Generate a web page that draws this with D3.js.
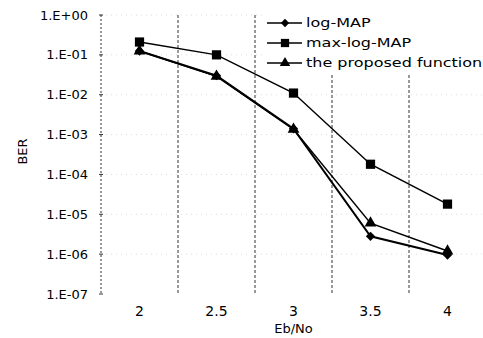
<!DOCTYPE html>
<html>
<head>
<meta charset="utf-8">
<script src="https://cdn.jsdelivr.net/npm/d3@7"></script>
<style>
  body { margin: 0; background: #fff; }
  svg { display: block; }
  text { font-family: "DejaVu Sans", sans-serif; fill: #000; }
</style>
</head>
<body>
<svg width="483" height="338"></svg>
<script>
const ebno = ["2", "2.5", "3", "3.5", "4"];
const logMap = [0.125, 0.030, 1.4e-3, 2.8e-6, 9.5e-7];
const maxLogMap = [0.21, 0.10, 0.011, 1.8e-4, 1.8e-5];
const proposed = [0.125, 0.029, 1.35e-3, 6.0e-6, 1.2e-6];
const yTicks = [1, 1e-1, 1e-2, 1e-3, 1e-4, 1e-5, 1e-6, 1e-7];
const yTickLabels = ["1.E+00", "1.E-01", "1.E-02", "1.E-03", "1.E-04", "1.E-05", "1.E-06", "1.E-07"];

const svg = d3.select("svg");

const plotLeft = 101, plotRight = 486, plotTop = 15, plotBottom = 294;

const x = d3.scaleBand().domain(ebno).range([plotLeft, plotRight]).padding(0);
const cx = (d) => x(d) + x.bandwidth() / 2;
const y = d3.scaleLog().domain([1e-7, 1]).range([plotBottom, plotTop]);

// stretch text horizontally (the scanned figure is wider than any font we have)
function stretch(sel, k) {
  sel.each(function () {
    const len = this.getComputedTextLength();
    d3.select(this).attr("textLength", len * k).attr("lengthAdjust", "spacingAndGlyphs");
  });
}

// faint horizontal grid
svg.append("g")
  .selectAll("line")
  .data(yTicks.slice(0, -1))
  .join("line")
  .attr("x1", plotLeft).attr("x2", plotRight)
  .attr("y1", (d) => y(d)).attr("y2", (d) => y(d))
  .attr("stroke", "#dcdcdc")
  .attr("stroke-dasharray", "1,4");

// vertical dividers between categories
svg.append("g")
  .selectAll("line")
  .data(ebno.slice(1))
  .join("line")
  .attr("x1", (d) => x(d)).attr("x2", (d) => x(d))
  .attr("y1", plotTop).attr("y2", plotBottom)
  .attr("stroke", "#333")
  .attr("stroke-dasharray", "3,2");

// left axis
const yAxis = svg.append("g");
yAxis.append("line")
  .attr("x1", plotLeft).attr("x2", plotLeft)
  .attr("y1", plotTop).attr("y2", plotBottom)
  .attr("stroke", "#333")
  .attr("stroke-dasharray", "2,2");
yAxis.selectAll(".tk")
  .data(yTicks)
  .join("line")
  .attr("x1", plotLeft - 2).attr("x2", plotLeft + 2)
  .attr("y1", (d) => y(d)).attr("y2", (d) => y(d))
  .attr("stroke", "#333");
yAxis.selectAll("text")
  .data(yTicks)
  .join("text")
  .attr("x", 88)
  .attr("y", (d) => y(d))
  .attr("dy", "0.35em")
  .attr("text-anchor", "end")
  .style("font-size", "13px")
  .text((d, i) => yTickLabels[i]);

// x labels
svg.append("g")
  .selectAll("text")
  .data(ebno)
  .join("text")
  .attr("x", (d) => cx(d))
  .attr("y", 316)
  .attr("text-anchor", "middle")
  .style("font-size", "14px")
  .text((d) => d);

svg.append("text")
  .attr("x", cx("3"))
  .attr("y", 333)
  .attr("text-anchor", "middle")
  .style("font-size", "13px")
  .text("Eb/No");

svg.append("text")
  .attr("transform", `translate(27,${(plotTop + plotBottom) / 2 - 3}) rotate(-90)`)
  .attr("text-anchor", "middle")
  .style("font-size", "13px")
  .text("BER");

const diamond = { draw(ctx, size) { const r = Math.sqrt(size) / 2 * 1.2; ctx.moveTo(0, -r); ctx.lineTo(r, 0); ctx.lineTo(0, r); ctx.lineTo(-r, 0); ctx.closePath(); } };

const series = [
  { name: "log-MAP", values: logMap, shape: diamond, size: 60, width: 2 },
  { name: "max-log-MAP", values: maxLogMap, shape: d3.symbolSquare, size: 85, width: 1.5 },
  { name: "the proposed function", values: proposed, shape: d3.symbolTriangle, size: 60, width: 1.5 }
];

const line = d3.line()
  .x((d) => cx(d[0]))
  .y((d) => y(d[1]));

series.forEach((s) => {
  const pts = ebno.map((e, i) => [e, s.values[i]]);
  svg.append("path")
    .datum(pts)
    .attr("fill", "none")
    .attr("stroke", "#000")
    .attr("stroke-width", s.width)
    .attr("d", line);
  svg.append("g")
    .selectAll("path")
    .data(pts)
    .join("path")
    .attr("transform", (d) => `translate(${cx(d[0])},${y(d[1])})`)
    .attr("d", d3.symbol(s.shape, s.size))
    .attr("fill", "#000");
});

// legend
const legend = svg.append("g");
legend.append("rect")
  .attr("x", 262).attr("y", 5)
  .attr("width", 221).attr("height", 70)
  .attr("fill", "#fff");
series.forEach((s, i) => {
  const ly = 23 + i * 20;
  legend.append("line")
    .attr("x1", 267).attr("x2", 302)
    .attr("y1", ly).attr("y2", ly)
    .attr("stroke", "#000")
    .attr("stroke-width", 1.5);
  legend.append("path")
    .attr("transform", `translate(285,${ly})`)
    .attr("d", d3.symbol(s.shape, s.size * 0.8))
    .attr("fill", "#000");
  legend.append("text")
    .attr("x", 306)
    .attr("y", ly)
    .attr("dy", "0.35em")
    .style("font-size", "12.5px")
    .text(s.name)
    .call(stretch, 1.28);
});
</script>
</body>
</html>
